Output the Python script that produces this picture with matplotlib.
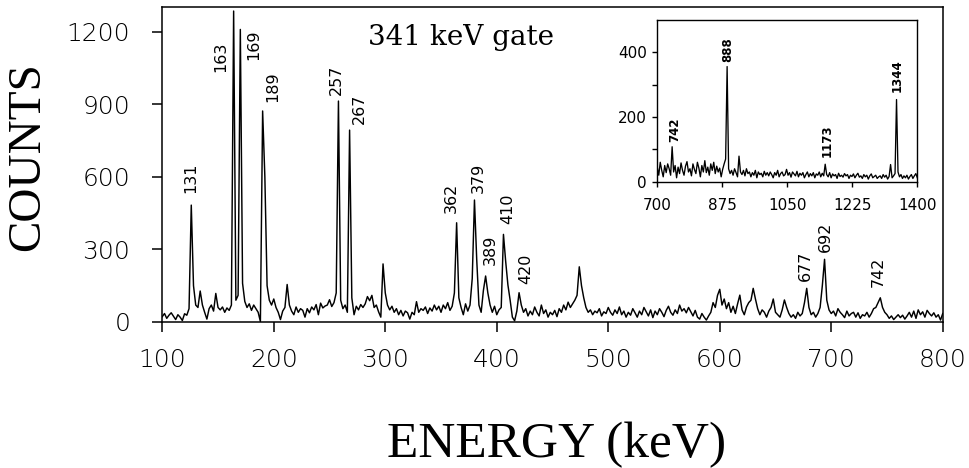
import numpy as np
import matplotlib
matplotlib.use("Agg")
import matplotlib.pyplot as plt

# main spectrum: counts every 2 keV from 100 to 800 keV
main_start, main_step = 100, 2
main_bg = [
    22, 35, 15, 28, 38, 24, 10, 30, 20, 6, 34, 28, 55, 90, 150, 70, 60, 128, 70, 40, 12, 55, 70, 45, 118,
    60, 50, 62, 40, 58, 48, 70, 150, 90, 110, 200, 160, 85, 60, 75, 48, 70, 55, 40, 2, 100, 600, 150, 90, 70,
    95, 60, 40, 10, 45, 60, 155, 70, 45, 30, 62, 40, 55, 48, 20, 55, 38, 62, 50, 72, 30, 78, 58, 66, 70,
    92, 64, 80, 120, 130, 90, 55, 70, 40, 120, 100, 30, 65, 50, 72, 60, 75, 105, 88, 110, 60, 70, 42, 20, 160,
    120, 70, 50, 65, 40, 55, 30, 48, 25, 45, 38, 12, 40, 30, 84, 40, 55, 48, 62, 35, 58, 45, 70, 50, 65,
    40, 70, 55, 80, 48, 65, 120, 100, 100, 60, 30, 75, 45, 70, 180, 120, 260, 70, 40, 130, 120, 120, 70, 40, 65,
    30, 50, 60, 100, 250, 153, 90, 20, 5, 45, 100, 70, 40, 55, 25, 45, 30, 62, 40, 25, 70, 35, 50, 20, 40,
    30, 48, 22, 55, 40, 70, 50, 82, 60, 75, 90, 110, 150, 150, 100, 60, 40, 50, 30, 45, 38, 55, 25, 42, 35,
    60, 40, 28, 50, 35, 62, 30, 45, 20, 40, 28, 55, 38, 20, 45, 30, 60, 42, 25, 50, 18, 45, 30, 55, 40,
    22, 48, 65, 40, 28, 50, 35, 70, 45, 55, 38, 60, 42, 25, 48, 20, 12, 35, 20, 8, 25, 40, 80, 60, 110,
    135, 70, 95, 55, 80, 40, 65, 35, 75, 111, 50, 30, 62, 80, 90, 139, 95, 55, 30, 50, 40, 20, 45, 60, 95,
    40, 30, 20, 50, 91, 60, 35, 20, 30, 15, 40, 25, 35, 80, 100, 60, 30, 40, 20, 35, 60, 150, 100, 90, 50,
    35, 45, 25, 55, 40, 30, 18, 45, 25, 35, 40, 20, 38, 15, 30, 25, 40, 20, 35, 55, 60, 80, 60, 60, 40,
    30, 15, 25, 10, 20, 30, 18, 28, 12, 25, 40, 20, 45, 15, 50, 30, 42, 20, 48, 35, 25, 38, 20, 30, 8,
    35,
]
main_peak_e = [126, 164, 170, 190, 258, 268, 298, 364, 380, 390, 406, 420, 474, 678, 694, 744]
main_peak_h = [483, 1285, 1209, 872, 913, 793, 240, 410, 504, 190, 362, 121, 228, 139, 259, 100]

main_lab_txt = ["131", "163", "169", "189", "257", "267", "362", "379", "389", "410", "420", "677", "692", "742"]
main_lab_e = [125.5, 152.4, 182.2, 199.0, 255.8, 276.7, 359.6, 383.4, 393.9, 409.8, 425.9, 677.0, 694.3, 742.2]
main_lab_y = [533, 1033, 1083, 909, 938, 818, 452, 533, 236, 405, 157, 169, 290, 145]

# inset spectrum: counts every 4 keV from 700 to 1400 keV
ins_start, ins_step = 700, 4
ins_bg = [
    45, 20, 60, 35, 15, 50, 28, 55, 40, 20, 60, 30, 50, 12, 45, 25, 58, 35, 20, 48, 62, 30, 40, 18, 55,
    38, 25, 60, 42, 15, 50, 30, 65, 28, 45, 20, 55, 35, 60, 25, 48, 30, 42, 15, 38, 55, 70, 60, 40, 25,
    35, 20, 40, 28, 15, 40, 30, 22, 35, 18, 40, 25, 30, 15, 28, 20, 35, 12, 30, 22, 26, 15, 32, 20, 28,
    18, 30, 22, 12, 28, 20, 35, 15, 25, 30, 18, 22, 38, 20, 28, 14, 30, 24, 18, 32, 15, 26, 20, 28, 12,
    22, 30, 15, 25, 18, 28, 12, 24, 20, 30, 15, 26, 18, 25, 22, 15, 28, 12, 24, 18, 22, 10, 26, 16, 20,
    14, 25, 18, 22, 10, 20, 16, 24, 12, 20, 26, 14, 18, 10, 22, 15, 20, 8, 18, 24, 12, 16, 20, 10, 15,
    18, 10, 22, 14, 20, 8, 16, 20, 12, 18, 25, 60, 30, 15, 22, 10, 18, 12, 20, 8, 16, 22, 10, 18, 25,
    12,
]
ins_peak_e = [740, 888, 920, 1152, 1328, 1344]
ins_peak_h = [108, 356, 79, 54, 53, 254]

ins_lab_txt = ["742", "888", "1173", "1344"]
ins_lab_e = [745.8, 888.5, 1157.7, 1344.6]
ins_lab_y = [123, 369, 77, 277]


def build(start, step, bg, pe, ph):
    e = start + step * np.arange(len(bg))
    c = np.array(bg, dtype=float)
    for en, h in zip(pe, ph):
        i = int(round((en - start) / step))
        c[i] = max(c[i], h)
    return e, c


fig = plt.figure(figsize=(9.7, 4.68), dpi=100)

# ---- main panel
ax = fig.add_axes([0.1673, 0.3120, 0.8046, 0.6737])
e, c = build(main_start, main_step, main_bg, main_peak_e, main_peak_h)
ax.plot(e, c, color="black", lw=1.05)
ax.set_xlim(100, 800)
ax.set_ylim(0, 1303)
ax.set_xticks([100, 200, 300, 400, 500, 600, 700, 800])
ax.set_yticks([0, 300, 600, 900, 1200])
for s in ax.spines.values():
    s.set_linewidth(1.1)
ax.tick_params(axis="both", direction="out", length=7, width=1.1, labelsize=18)
ax.tick_params(axis="x", pad=12)
ax.tick_params(axis="y", pad=16)
for lab in ax.get_xticklabels() + ax.get_yticklabels():
    lab.set_fontfamily("DejaVu Sans")
    lab.set_fontweight("light")
    lab.set_color("black")

for t, x, y in zip(main_lab_txt, main_lab_e, main_lab_y):
    ax.text(x, y, t, rotation=90, ha="center", va="bottom", fontsize=11.5,
            family="DejaVu Sans")

fig.text(0.379, 0.904, "341 keV gate", fontsize=20, family="DejaVu Serif",
         ha="left", va="baseline")

fig.text(0.029, 0.6645, "COUNTS", rotation=90, fontsize=34,
         family="Liberation Serif", ha="center", va="center")
fig.text(0.574, 0.0235, "ENERGY (keV)", fontsize=37,
         family="Liberation Serif", ha="center", va="baseline")

# ---- inset
ins = fig.add_axes([0.6776, 0.6118, 0.2681, 0.3455])
ei, ci = build(ins_start, ins_step, ins_bg, ins_peak_e, ins_peak_h)
ins.plot(ei, ci, color="black", lw=0.95)
ins.set_xlim(700, 1400)
ins.set_ylim(0, 500)
ins.set_xticks([700, 875, 1050, 1225, 1400])
ins.set_yticks([0, 100, 200, 300, 400])
ins.set_yticklabels(["0", "", "200", "", "400"])
for s in ins.spines.values():
    s.set_linewidth(1.0)
ins.tick_params(axis="both", direction="out", length=3.5, width=1.0, labelsize=11)
ins.tick_params(axis="x", pad=8)
ins.tick_params(axis="y", pad=4)

for t, x, y in zip(ins_lab_txt, ins_lab_e, ins_lab_y):
    ins.text(x, y, t, rotation=90, ha="center", va="bottom", fontsize=8.5,
             fontweight="bold", family="DejaVu Sans")

fig.savefig("out.png", dpi=100)
